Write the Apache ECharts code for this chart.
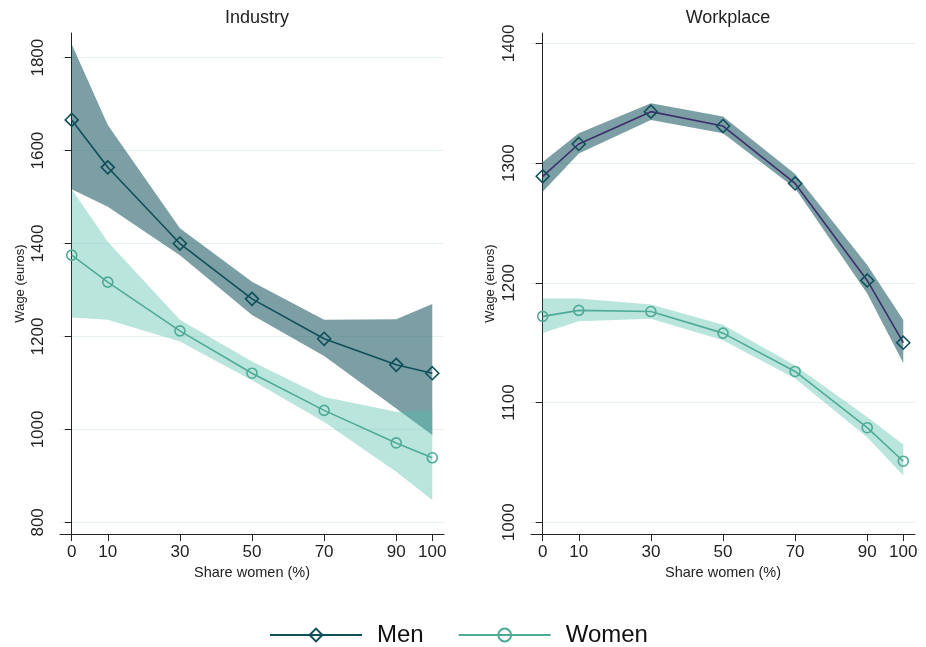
<!DOCTYPE html>
<html>
<head>
<meta charset="utf-8">
<script src="https://cdn.jsdelivr.net/npm/echarts@6/dist/echarts.min.js"></script>
<style>html,body{margin:0;padding:0;background:#fff}#c{width:926px;height:647px}</style>
</head>
<body>
<div id="c"></div>
<script>
// ---- data ----
const shares = [0, 10, 30, 50, 70, 90, 100];
const xTicks = [0, 10, 30, 50, 70, 90, 100];
const indTicks = [800, 1000, 1200, 1400, 1600, 1800];
const wpTicks = [1000, 1100, 1200, 1300, 1400];

// Industry panel
const indMen = [1666, 1564, 1400, 1281, 1195, 1139, 1121];
const indMenHi = [1829, 1655, 1433, 1318, 1236, 1237, 1270];
const indMenLo = [1517, 1479, 1375, 1246, 1158, 1045, 988];
const indWomen = [1375, 1317, 1212, 1121, 1041, 971, 939];
const indWomenHi = [1517, 1404, 1236, 1146, 1070, 1038, 1040];
const indWomenLo = [1241, 1236, 1189, 1106, 1016, 909, 848];

// Workplace panel
const wpMen = [1289, 1316, 1343, 1331, 1283, 1202, 1150];
const wpMenHi = [1301, 1325, 1350, 1339, 1291, 1215, 1169];
const wpMenLo = [1276, 1308, 1336, 1325, 1279, 1191, 1133];
const wpWomen = [1172, 1177, 1176, 1158, 1126, 1079, 1051];
const wpWomenHi = [1187, 1187, 1182, 1165, 1131, 1088, 1065];
const wpWomenLo = [1158, 1168, 1170, 1152, 1120, 1071, 1039];

// ---- styles ----
const MEN = '#0e4f5a';
const MEN_WP_LINE = '#3d2f6c';
const WOMEN = '#4fab97';
const MEN_BAND = 'rgba(15,80,90,0.55)';
const WOMEN_BAND = 'rgba(80,190,170,0.4)';
const AXIS = '#222';
const FONT = 'Liberation Sans, Arial, sans-serif';

function pairs(xs, ys) { return xs.map((x, i) => [x, ys[i]]); }

function band(name, gi, lo, hi, fill, z) {
  return {
    type: 'custom', name: name, xAxisIndex: gi, yAxisIndex: gi, z: z, silent: true,
    data: shares.map((s, i) => [s, lo[i], hi[i]]),
    encode: { x: 0, y: [1, 2] },
    renderItem: function (params, api) {
      if (params.dataIndex !== 0) return;
      const pts = [];
      for (let i = 0; i < shares.length; i++) pts.push(api.coord([shares[i], hi[i]]));
      for (let i = shares.length - 1; i >= 0; i--) pts.push(api.coord([shares[i], lo[i]]));
      return { type: 'polygon', shape: { points: pts }, style: { fill: fill, stroke: null } };
    }
  };
}

function line(name, gi, ys, lineColor, markColor, symbol, size) {
  return {
    type: 'line', name: name, xAxisIndex: gi, yAxisIndex: gi, z: 5,
    data: pairs(shares, ys),
    symbol: symbol, symbolSize: size, showAllSymbol: true,
    lineStyle: { color: lineColor, width: 1.6 },
    itemStyle: { color: 'rgba(255,255,255,0)', borderColor: markColor, borderWidth: 1.6 },
    color: lineColor,
    emphasis: { disabled: true }, animation: false
  };
}

function xAxis(gi) {
  return {
    type: 'value', gridIndex: gi, min: -3.25, max: 103.25,
    name: 'Share women (%)', nameLocation: 'middle', nameGap: 30,
    nameTextStyle: { fontSize: 14.5, color: '#222', fontFamily: FONT },
    axisLine: { show: true, lineStyle: { color: AXIS, width: 1 } },
    axisTick: { show: true, length: 7, customValues: xTicks, lineStyle: { color: AXIS } },
    axisLabel: { customValues: xTicks, fontSize: 17, color: '#222', fontFamily: FONT, margin: 10, formatter: v => String(v) },
    splitLine: { show: false }
  };
}

function yAxis(gi, min, max, ticks, nameGap) {
  return {
    type: 'value', gridIndex: gi, min: min, max: max,
    name: 'Wage (euros)', nameLocation: 'middle', nameGap: nameGap,
    nameTextStyle: { fontSize: 13, color: '#222', fontFamily: FONT },
    axisLine: { show: true, lineStyle: { color: AXIS, width: 1 } },
    axisTick: { show: true, length: 7, customValues: ticks, lineStyle: { color: AXIS } },
    axisLabel: { customValues: ticks, rotate: 90, fontSize: 17, color: '#222', fontFamily: FONT, margin: 13, formatter: v => String(v) },
    splitLine: { show: true, lineStyle: { color: '#e8f1f2', width: 1.2 } }
  };
}

const chart = echarts.init(document.getElementById('c'), null, { renderer: 'canvas' });
chart.setOption({
  animation: false,
  backgroundColor: '#fff',
  textStyle: { fontFamily: FONT },
  title: [
    { text: 'Industry', left: 252, top: 4, textAlign: 'center', textStyle: { fontSize: 18, fontWeight: 'normal', color: '#222', fontFamily: FONT } },
    { text: 'Workplace', left: 723, top: 4, textAlign: 'center', textStyle: { fontSize: 18, fontWeight: 'normal', color: '#222', fontFamily: FONT } }
  ],
  grid: [
    { left: 60, right: 482, top: 33, bottom: 113 },
    { left: 531, right: 11, top: 33, bottom: 113 }
  ],
  xAxis: [xAxis(0), xAxis(1)],
  yAxis: [yAxis(0, 775, 1853, indTicks, 33), yAxis(1, 990.2, 1408.7, wpTicks, 34)],
  legend: {
    data: ['Men', 'Women'], left: 269, top: 623, padding: 0,
    itemWidth: 92, itemHeight: 16, itemGap: 34,
    textStyle: { fontSize: 24, color: '#111', fontFamily: FONT, padding: [0, 0, 0, 10] },
    selectedMode: false
  },
  series: [
    band('bandMenInd', 0, indMenLo, indMenHi, MEN_BAND, 1),
    band('bandWomenInd', 0, indWomenLo, indWomenHi, WOMEN_BAND, 2),
    band('bandMenWp', 1, wpMenLo, wpMenHi, MEN_BAND, 1),
    band('bandWomenWp', 1, wpWomenLo, wpWomenHi, WOMEN_BAND, 2),
    line('Men', 0, indMen, MEN, MEN, 'diamond', 13),
    line('Women', 0, indWomen, WOMEN, WOMEN, 'circle', 10),
    line('Men', 1, wpMen, MEN_WP_LINE, MEN, 'diamond', 13),
    line('Women', 1, wpWomen, WOMEN, WOMEN, 'circle', 10)
  ]
});
</script>
</body>
</html>
